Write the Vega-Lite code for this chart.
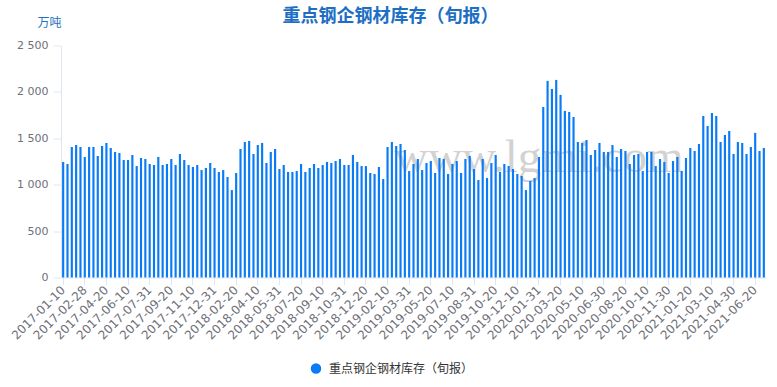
{
  "$schema": "https://vega.github.io/schema/vega-lite/v6.json",
  "width": 705,
  "height": 232,
  "autosize": {"type": "none"},
  "padding": {"left": 61, "top": 45.5, "right": 11, "bottom": 109.5},
  "background": "white",
  "config": {"view": {"stroke": null}, "font": "Noto Sans CJK SC"},
  "title": {
    "text": "重点钢企钢材库存（旬报）",
    "anchor": "middle",
    "dx": -23,
    "dy": 24,
    "fontSize": 18,
    "font": "Noto Sans CJK SC",
    "fontWeight": "bold",
    "color": "#1e6fc4",
    "baseline": "middle",
    "offset": 6
  },
  "layer": [
    {
      "data": {"values": [{"site": "www.lgmi.com"}]},
      "mark": {"type": "text", "font": "Liberation Serif", "fontSize": 47, "color": "#d2d2d2", "align": "center", "baseline": "alphabetic"},
      "encoding": {
        "x": {"datum": "2020-01-31", "type": "ordinal"},
        "y": {"datum": 1137, "type": "quantitative"},
        "text": {"field": "site"}
      }
    },
    {
      "data": {
        "values": [
          {"date": "2017-01-10", "stock": 1245}, {"date": "2017-01-20", "stock": 1223}, {"date": "2017-01-31", "stock": 1406},
          {"date": "2017-02-10", "stock": 1428}, {"date": "2017-02-20", "stock": 1406}, {"date": "2017-02-28", "stock": 1299},
          {"date": "2017-03-10", "stock": 1406}, {"date": "2017-03-20", "stock": 1406}, {"date": "2017-03-31", "stock": 1309},
          {"date": "2017-04-10", "stock": 1417}, {"date": "2017-04-20", "stock": 1450}, {"date": "2017-04-30", "stock": 1396},
          {"date": "2017-05-10", "stock": 1353}, {"date": "2017-05-20", "stock": 1342}, {"date": "2017-05-31", "stock": 1266},
          {"date": "2017-06-10", "stock": 1266}, {"date": "2017-06-20", "stock": 1320}, {"date": "2017-06-30", "stock": 1201},
          {"date": "2017-07-10", "stock": 1288}, {"date": "2017-07-20", "stock": 1277}, {"date": "2017-07-31", "stock": 1223},
          {"date": "2017-08-10", "stock": 1212}, {"date": "2017-08-20", "stock": 1299}, {"date": "2017-08-31", "stock": 1212},
          {"date": "2017-09-10", "stock": 1223}, {"date": "2017-09-20", "stock": 1277}, {"date": "2017-09-30", "stock": 1212},
          {"date": "2017-10-10", "stock": 1331}, {"date": "2017-10-20", "stock": 1266}, {"date": "2017-10-31", "stock": 1212},
          {"date": "2017-11-10", "stock": 1191}, {"date": "2017-11-20", "stock": 1212}, {"date": "2017-11-30", "stock": 1158},
          {"date": "2017-12-10", "stock": 1180}, {"date": "2017-12-20", "stock": 1234}, {"date": "2017-12-31", "stock": 1180},
          {"date": "2018-01-10", "stock": 1137}, {"date": "2018-01-20", "stock": 1158}, {"date": "2018-01-31", "stock": 1083},
          {"date": "2018-02-10", "stock": 942}, {"date": "2018-02-20", "stock": 1126}, {"date": "2018-02-28", "stock": 1385},
          {"date": "2018-03-10", "stock": 1460}, {"date": "2018-03-20", "stock": 1471}, {"date": "2018-03-31", "stock": 1331},
          {"date": "2018-04-10", "stock": 1428}, {"date": "2018-04-20", "stock": 1450}, {"date": "2018-04-30", "stock": 1234},
          {"date": "2018-05-10", "stock": 1353}, {"date": "2018-05-20", "stock": 1385}, {"date": "2018-05-31", "stock": 1169},
          {"date": "2018-06-10", "stock": 1212}, {"date": "2018-06-20", "stock": 1137}, {"date": "2018-06-30", "stock": 1137},
          {"date": "2018-07-10", "stock": 1147}, {"date": "2018-07-20", "stock": 1223}, {"date": "2018-07-31", "stock": 1137},
          {"date": "2018-08-10", "stock": 1180}, {"date": "2018-08-20", "stock": 1223}, {"date": "2018-08-31", "stock": 1180},
          {"date": "2018-09-10", "stock": 1212}, {"date": "2018-09-20", "stock": 1245}, {"date": "2018-09-30", "stock": 1234},
          {"date": "2018-10-10", "stock": 1255}, {"date": "2018-10-20", "stock": 1277}, {"date": "2018-10-31", "stock": 1212},
          {"date": "2018-11-10", "stock": 1212}, {"date": "2018-11-20", "stock": 1320}, {"date": "2018-11-30", "stock": 1245},
          {"date": "2018-12-10", "stock": 1201}, {"date": "2018-12-20", "stock": 1201}, {"date": "2018-12-31", "stock": 1126},
          {"date": "2019-01-10", "stock": 1115}, {"date": "2019-01-20", "stock": 1191}, {"date": "2019-01-31", "stock": 1061},
          {"date": "2019-02-10", "stock": 1406}, {"date": "2019-02-20", "stock": 1460}, {"date": "2019-02-28", "stock": 1417},
          {"date": "2019-03-10", "stock": 1439}, {"date": "2019-03-20", "stock": 1374}, {"date": "2019-03-31", "stock": 1147},
          {"date": "2019-04-10", "stock": 1223}, {"date": "2019-04-20", "stock": 1277}, {"date": "2019-04-30", "stock": 1158},
          {"date": "2019-05-10", "stock": 1234}, {"date": "2019-05-20", "stock": 1255}, {"date": "2019-05-31", "stock": 1126},
          {"date": "2019-06-10", "stock": 1288}, {"date": "2019-06-20", "stock": 1277}, {"date": "2019-06-30", "stock": 1115},
          {"date": "2019-07-10", "stock": 1223}, {"date": "2019-07-20", "stock": 1255}, {"date": "2019-07-31", "stock": 1126},
          {"date": "2019-08-10", "stock": 1277}, {"date": "2019-08-20", "stock": 1309}, {"date": "2019-08-31", "stock": 1169},
          {"date": "2019-09-10", "stock": 1050}, {"date": "2019-09-20", "stock": 1277}, {"date": "2019-09-30", "stock": 1072},
          {"date": "2019-10-10", "stock": 1234}, {"date": "2019-10-20", "stock": 1320}, {"date": "2019-10-31", "stock": 1137},
          {"date": "2019-11-10", "stock": 1223}, {"date": "2019-11-20", "stock": 1201}, {"date": "2019-11-30", "stock": 1169},
          {"date": "2019-12-10", "stock": 1115}, {"date": "2019-12-20", "stock": 1094}, {"date": "2019-12-31", "stock": 942},
          {"date": "2020-01-10", "stock": 1040}, {"date": "2020-01-20", "stock": 1072}, {"date": "2020-01-31", "stock": 1299},
          {"date": "2020-02-10", "stock": 1838}, {"date": "2020-02-20", "stock": 2119}, {"date": "2020-02-29", "stock": 2032},
          {"date": "2020-03-10", "stock": 2129}, {"date": "2020-03-20", "stock": 1968}, {"date": "2020-03-31", "stock": 1795},
          {"date": "2020-04-10", "stock": 1784}, {"date": "2020-04-20", "stock": 1730}, {"date": "2020-04-30", "stock": 1460},
          {"date": "2020-05-10", "stock": 1450}, {"date": "2020-05-20", "stock": 1482}, {"date": "2020-05-31", "stock": 1320},
          {"date": "2020-06-10", "stock": 1374}, {"date": "2020-06-20", "stock": 1450}, {"date": "2020-06-30", "stock": 1353},
          {"date": "2020-07-10", "stock": 1353}, {"date": "2020-07-20", "stock": 1428}, {"date": "2020-07-31", "stock": 1299},
          {"date": "2020-08-10", "stock": 1385}, {"date": "2020-08-20", "stock": 1363}, {"date": "2020-08-31", "stock": 1223},
          {"date": "2020-09-10", "stock": 1320}, {"date": "2020-09-20", "stock": 1331}, {"date": "2020-09-30", "stock": 1147},
          {"date": "2020-10-10", "stock": 1353}, {"date": "2020-10-20", "stock": 1353}, {"date": "2020-10-31", "stock": 1201},
          {"date": "2020-11-10", "stock": 1277}, {"date": "2020-11-20", "stock": 1245}, {"date": "2020-11-30", "stock": 1126},
          {"date": "2020-12-10", "stock": 1255}, {"date": "2020-12-20", "stock": 1299}, {"date": "2020-12-31", "stock": 1147},
          {"date": "2021-01-10", "stock": 1288}, {"date": "2021-01-20", "stock": 1396}, {"date": "2021-01-31", "stock": 1363},
          {"date": "2021-02-10", "stock": 1439}, {"date": "2021-02-20", "stock": 1741}, {"date": "2021-02-28", "stock": 1633},
          {"date": "2021-03-10", "stock": 1773}, {"date": "2021-03-20", "stock": 1741}, {"date": "2021-03-31", "stock": 1460},
          {"date": "2021-04-10", "stock": 1536}, {"date": "2021-04-20", "stock": 1579}, {"date": "2021-04-30", "stock": 1331},
          {"date": "2021-05-10", "stock": 1460}, {"date": "2021-05-20", "stock": 1450}, {"date": "2021-05-31", "stock": 1331},
          {"date": "2021-06-10", "stock": 1406}, {"date": "2021-06-20", "stock": 1558}, {"date": "2021-06-30", "stock": 1363},
          {"date": "2021-07-10", "stock": 1396}
        ]
      },
      "mark": {"type": "bar", "width": {"band": 0.5}},
      "encoding": {
        "x": {
          "field": "date",
          "type": "ordinal",
          "scale": {"paddingInner": 0, "paddingOuter": 0},
          "axis": {
            "title": null,
            "values": ["2017-01-10", "2017-02-28", "2017-04-20", "2017-06-10", "2017-07-31", "2017-09-20", "2017-11-10", "2017-12-31", "2018-02-20", "2018-04-10", "2018-05-31", "2018-07-20", "2018-09-10", "2018-10-31", "2018-12-20", "2019-02-10", "2019-03-31", "2019-05-20", "2019-07-10", "2019-08-31", "2019-10-20", "2019-12-10", "2020-01-31", "2020-03-20", "2020-05-10", "2020-06-30", "2020-08-20", "2020-10-10", "2020-11-30", "2021-01-20", "2021-03-10", "2021-04-30", "2021-06-20"],
            "labelAngle": -45,
            "labelAlign": "right",
            "labelBaseline": "middle",
            "labelFont": "DejaVu Sans",
            "labelFontSize": 12,
            "labelColor": "#6e7079",
            "labelPadding": 3,
            "labelOverlap": false,
            "labelBound": false,
            "tickColor": "#e0e6f1",
            "tickSize": 7,
            "domainColor": "#e0e6f1",
            "grid": false
          }
        },
        "y": {
          "field": "stock",
          "type": "quantitative",
          "scale": {"domain": [0, 2500], "nice": false},
          "axis": {
            "title": "万吨",
            "titleAngle": 0,
            "titleX": -12,
            "titleY": -23,
            "titleAlign": "center",
            "titleBaseline": "middle",
            "titleFont": "Noto Sans CJK SC",
            "titleFontSize": 12,
            "titleFontWeight": "normal",
            "titleColor": "#1e6fc4",
            "values": [0, 500, 1000, 1500, 2000, 2500],
            "labelExpr": "replace(format(datum.value, ','), ',', ' ')",
            "labelFont": "DejaVu Sans",
            "labelFontSize": 11,
            "labelColor": "#6e7079",
            "labelPadding": 5,
            "tickSize": 8,
            "tickColor": "#e0e6f1",
            "domainColor": "#e0e6f1",
            "gridColor": "#e0e6f1"
          }
        },
        "color": {
          "datum": "重点钢企钢材库存（旬报）",
          "type": "nominal",
          "scale": {"range": ["#0a7bf6"]},
          "legend": {
            "orient": "none",
            "legendX": 249,
            "legendY": 317,
            "title": null,
            "symbolType": "circle",
            "symbolSize": 110,
            "symbolStrokeWidth": 0,
            "labelFont": "Noto Sans CJK SC",
            "labelFontSize": 12,
            "labelColor": "#333333",
            "labelOffset": 7,
            "padding": 0
          }
        }
      }
    }
  ]
}
